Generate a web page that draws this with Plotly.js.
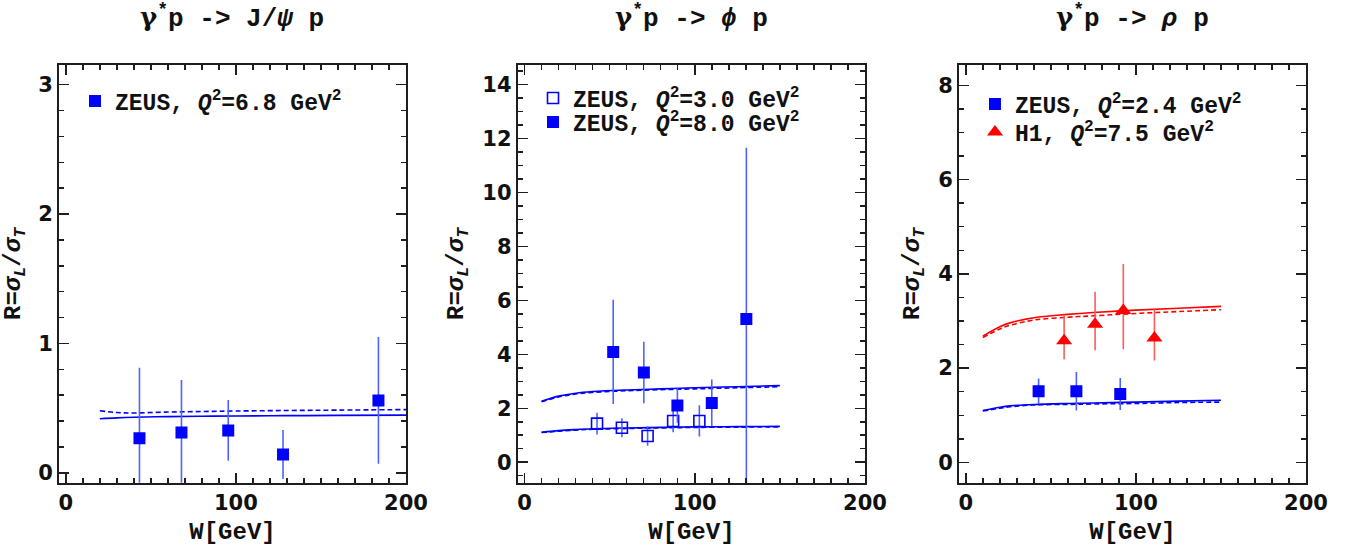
<!DOCTYPE html>
<html>
<head>
<meta charset="utf-8">
<script src="https://cdn.plot.ly/plotly-3.0.1.min.js"></script>
<style>
  html, body { margin: 0; padding: 0; background: #fff; }
  #chart { width: 1364px; height: 550px; }
</style>
</head>
<body>
<div id="chart"></div>
<script>
// ---- gamma* p -> J/psi p : ZEUS, Q^2 = 6.8 GeV^2 ----
const W_JPSI = [43.3, 68.0, 95.5, 127.7, 183.8];
const R_JPSI = [0.268, 0.312, 0.328, 0.142, 0.56];
const ERR_JPSI = [0.545, 0.405, 0.235, 0.19, 0.49];
const W_JPSI_MODEL = [20, 30, 40, 60, 80, 100, 130, 160, 200];
const R_JPSI_SOLID = [0.418, 0.425, 0.430, 0.435, 0.438, 0.440, 0.442, 0.444, 0.446];
const R_JPSI_DASHED = [0.480, 0.466, 0.463, 0.470, 0.474, 0.478, 0.482, 0.485, 0.489];

// ---- gamma* p -> phi p : ZEUS, Q^2 = 3.0 and 8.0 GeV^2 ----
const W_PHI_Q3 = [42.6, 57.2, 72.3, 87.3, 102.7];
const R_PHI_Q3 = [1.43, 1.28, 0.97, 1.53, 1.53];
const ERR_PHI_Q3 = [0.40, 0.35, 0.36, 0.42, 0.58];
const W_PHI_Q8 = [52.1, 70.1, 89.8, 110.0, 130.3];
const R_PHI_Q8 = [4.09, 3.33, 2.10, 2.20, 5.31];
const ERR_PHI_Q8 = [1.93, 1.14, 0.64, 0.87, 6.35];
const W_PHI_MODEL = [10, 20, 30, 40, 60, 80, 100, 125, 150];
const R_PHI_Q8_SOLID = [2.26, 2.45, 2.56, 2.62, 2.68, 2.72, 2.76, 2.80, 2.84];
const R_PHI_Q8_DASHED = [2.24, 2.42, 2.53, 2.59, 2.65, 2.69, 2.72, 2.76, 2.80];
const R_PHI_Q3_SOLID = [1.11, 1.17, 1.21, 1.24, 1.27, 1.29, 1.31, 1.32, 1.33];
const R_PHI_Q3_DASHED = [1.10, 1.15, 1.19, 1.22, 1.25, 1.27, 1.29, 1.30, 1.31];

// ---- gamma* p -> rho p : ZEUS Q^2 = 2.4, H1 Q^2 = 7.5 GeV^2 ----
const W_RHO_ZEUS = [42.8, 65.0, 90.8];
const R_RHO_ZEUS = [1.51, 1.51, 1.45];
const ERR_RHO_ZEUS = [0.27, 0.41, 0.34];
const W_RHO_H1 = [57.8, 76.0, 92.6, 110.9];
const R_RHO_H1 = [2.58, 2.93, 3.22, 2.64];
const ERR_RHO_H1_UP = [0.55, 0.69, 0.99, 0.61];
const ERR_RHO_H1_DOWN = [0.39, 0.55, 0.82, 0.48];
const W_RHO_MODEL = [10, 20, 26, 40, 60, 75, 100, 125, 150];
const R_RHO_H1_SOLID = [2.68, 2.88, 2.96, 3.07, 3.14, 3.18, 3.23, 3.27, 3.31];
const R_RHO_H1_DASHED = [2.65, 2.83, 2.91, 3.02, 3.08, 3.11, 3.16, 3.20, 3.24];
const R_RHO_ZEUS_SOLID = [1.10, 1.17, 1.20, 1.23, 1.25, 1.26, 1.28, 1.30, 1.32];
const R_RHO_ZEUS_DASHED = [1.09, 1.15, 1.18, 1.22, 1.23, 1.24, 1.25, 1.27, 1.28];

// ---- panel titles and legend labels ----
const GAMMA = '<span style="font-family:DejaVu Serif">γ</span>';
const PANEL_TITLES = [
  GAMMA + '<sup>*</sup>p -> J/<i>ψ</i> p',
  GAMMA + '<sup>*</sup>p -> <i>ϕ</i> p',
  GAMMA + '<sup>*</sup>p -> <i>ρ</i> p'
];
const LABEL_JPSI = 'ZEUS, <i>Q</i><sup>2</sup>=6.8 GeV<sup>2</sup>';
const LABEL_PHI_Q3 = 'ZEUS, <i>Q</i><sup>2</sup>=3.0 GeV<sup>2</sup>';
const LABEL_PHI_Q8 = 'ZEUS, <i>Q</i><sup>2</sup>=8.0 GeV<sup>2</sup>';
const LABEL_RHO_ZEUS = 'ZEUS, <i>Q</i><sup>2</sup>=2.4 GeV<sup>2</sup>';
const LABEL_RHO_H1 = 'H1, <i>Q</i><sup>2</sup>=7.5 GeV<sup>2</sup>';
const X_TITLE = 'W[GeV]';
const Y_TITLE = 'R=<i>σ</i><sub><i>L</i></sub>/<i>σ</i><sub><i>T</i></sub>';

const BLUE = '#0000ff';
const BLUE_ERR = '#4f62ff';
const RED = '#ff0000';
const RED_ERR = '#ff5a5a';
const MONO = 'Liberation Mono, DejaVu Sans Mono, monospace';
const SANS = 'DejaVu Sans, sans-serif';
const FRAME = '#1e1e1e';

const W = 1364, H = 550;
const px = v => v / W;
const py = v => 1 - v / H;

function dataTrace(x, y, err, xa, ya, opts) {
  return Object.assign({
    type: 'scatter', mode: 'markers', x: x, y: y,
    xaxis: xa, yaxis: ya,
    error_y: { type: 'data', array: err, visible: true, width: 0, thickness: 1.6, color: BLUE_ERR },
    cliponaxis: true
  }, opts);
}

function modelTrace(x, y, xa, ya, color, dashed) {
  return {
    type: 'scatter', mode: 'lines', x: x, y: y, xaxis: xa, yaxis: ya,
    line: { color: color, width: 1.6, shape: 'spline', dash: dashed ? '5px,3px' : 'solid' },
    showlegend: false, hoverinfo: 'skip'
  };
}

const traces = [
  // J/psi
  modelTrace(W_JPSI_MODEL, R_JPSI_SOLID, 'x', 'y', BLUE, false),
  modelTrace(W_JPSI_MODEL, R_JPSI_DASHED, 'x', 'y', BLUE, true),
  dataTrace(W_JPSI, R_JPSI, ERR_JPSI, 'x', 'y', {
    name: LABEL_JPSI, legend: 'legend',
    marker: { symbol: 'square', size: 12, color: BLUE }
  }),
  // phi
  modelTrace(W_PHI_MODEL, R_PHI_Q8_SOLID, 'x2', 'y2', BLUE, false),
  modelTrace(W_PHI_MODEL, R_PHI_Q8_DASHED, 'x2', 'y2', BLUE, true),
  modelTrace(W_PHI_MODEL, R_PHI_Q3_SOLID, 'x2', 'y2', BLUE, false),
  modelTrace(W_PHI_MODEL, R_PHI_Q3_DASHED, 'x2', 'y2', BLUE, true),
  dataTrace(W_PHI_Q3, R_PHI_Q3, ERR_PHI_Q3, 'x2', 'y2', {
    name: LABEL_PHI_Q3, legend: 'legend2',
    marker: { symbol: 'square-open', size: 11, color: BLUE, line: { width: 1.6, color: BLUE } }
  }),
  dataTrace(W_PHI_Q8, R_PHI_Q8, ERR_PHI_Q8, 'x2', 'y2', {
    name: LABEL_PHI_Q8, legend: 'legend3',
    marker: { symbol: 'square', size: 12, color: BLUE }
  }),
  // rho
  modelTrace(W_RHO_MODEL, R_RHO_H1_SOLID, 'x3', 'y3', RED, false),
  modelTrace(W_RHO_MODEL, R_RHO_H1_DASHED, 'x3', 'y3', RED, true),
  modelTrace(W_RHO_MODEL, R_RHO_ZEUS_SOLID, 'x3', 'y3', BLUE, false),
  modelTrace(W_RHO_MODEL, R_RHO_ZEUS_DASHED, 'x3', 'y3', BLUE, true),
  dataTrace(W_RHO_ZEUS, R_RHO_ZEUS, ERR_RHO_ZEUS, 'x3', 'y3', {
    name: LABEL_RHO_ZEUS, legend: 'legend4',
    marker: { symbol: 'square', size: 12, color: BLUE }
  }),
  dataTrace(W_RHO_H1, R_RHO_H1, null, 'x3', 'y3', {
    name: LABEL_RHO_H1, legend: 'legend5',
    marker: { symbol: 'triangle-up', size: 14, color: RED },
    error_y: { type: 'data', array: ERR_RHO_H1_UP, arrayminus: ERR_RHO_H1_DOWN, symmetric: false,
               visible: true, width: 0, thickness: 1.6, color: RED_ERR }
  })
];

const tickFont = { family: SANS, size: 21, weight: 'bold', color: '#111' };
const titleFont = { family: MONO, size: 24, weight: 'bold', color: '#111' };

function xAxis(left, right, anchor) {
  return {
    domain: [px(left), px(right)], anchor: anchor, range: [-4, 200],
    tickmode: 'linear', tick0: 0, dtick: 100,
    ticks: 'inside', ticklen: 10, tickwidth: 1.5, tickcolor: FRAME,
    minor: { tickmode: 'linear', tick0: 0, dtick: 10, ticks: 'inside', ticklen: 5, tickwidth: 1.5, tickcolor: FRAME },
    showline: true, linewidth: 2, linecolor: FRAME, mirror: 'allticks',
    showgrid: false, zeroline: false, fixedrange: true,
    tickfont: tickFont,
    title: { text: X_TITLE, font: titleFont, standoff: 8 }
  };
}

function yAxis(range, major, minor, anchor) {
  return {
    domain: [py(482.7), py(65)], anchor: anchor, range: range,
    tickmode: 'linear', tick0: 0, dtick: major,
    ticks: 'inside', ticklen: 10, tickwidth: 1.5, tickcolor: FRAME,
    minor: { tickmode: 'linear', tick0: 0, dtick: minor, ticks: 'inside', ticklen: 5, tickwidth: 1.5, tickcolor: FRAME },
    showline: true, linewidth: 2, linecolor: FRAME, mirror: 'allticks',
    showgrid: false, zeroline: false, fixedrange: true,
    tickfont: tickFont,
    title: { text: Y_TITLE, font: titleFont, standoff: 12 }
  };
}

// one legend box per entry, so each row sits where it belongs inside its panel
const legendFont = { family: MONO, size: 23, weight: 'bold', color: '#111' };
function legendAt(x, rowCenter) {
  return {
    x: px(x), y: py(rowCenter - 20.5), xanchor: 'left', yanchor: 'top',
    bgcolor: 'rgba(0,0,0,0)', borderwidth: 0, font: legendFont,
    itemwidth: 30, itemclick: false
  };
}

const PANEL_CENTERS = [(59 + 406) / 2, (517.7 + 865) / 2, (959 + 1306) / 2];
const annotations = PANEL_TITLES.map((t, i) => ({
  text: t, xref: 'paper', yref: 'paper',
  x: px(PANEL_CENTERS[i]), y: py(17), xanchor: 'center', yanchor: 'middle',
  showarrow: false, font: { family: MONO, size: 26, weight: 'bold', color: '#111' }
}));

const layout = {
  width: W, height: H,
  margin: { l: 0, r: 0, t: 0, b: 0 },
  paper_bgcolor: '#ffffff', plot_bgcolor: '#ffffff',
  showlegend: true,
  xaxis: xAxis(59, 406, 'y'),
  yaxis: yAxis([-0.076, 3.152], 1, 0.2, 'x'),
  xaxis2: xAxis(517.7, 865, 'y2'),
  yaxis2: yAxis([-0.76, 14.73], 2, 0.5, 'x2'),
  xaxis3: xAxis(959, 1306, 'y3'),
  yaxis3: yAxis([-0.43, 8.43], 2, 0.5, 'x3'),
  legend: legendAt(75, 100),
  legend2: legendAt(533, 97),
  legend3: legendAt(533, 121),
  legend4: legendAt(975, 103),
  legend5: legendAt(975, 131),
  annotations: annotations
};

Plotly.newPlot('chart', traces, layout, { displayModeBar: false, staticPlot: true });
</script>
</body>
</html>
